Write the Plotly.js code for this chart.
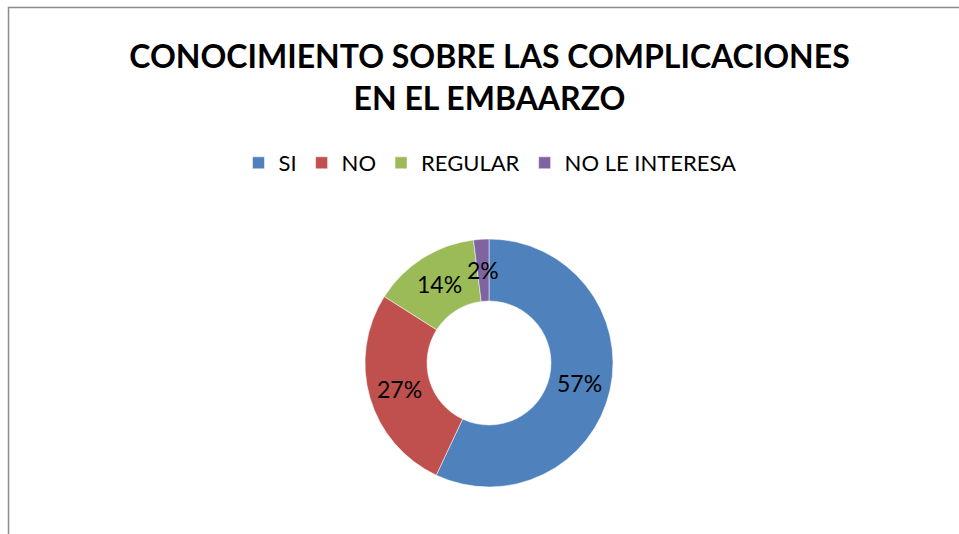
<!DOCTYPE html>
<html>
<head>
<meta charset="utf-8">
<script src="https://cdn.plot.ly/plotly-3.0.1.min.js"></script>
<style>html,body{margin:0;padding:0;background:#fff;}#chart{width:959px;height:534px;}</style>
</head>
<body>
<div id="chart"></div>
<script>
const categories = ["SI", "NO", "REGULAR", "NO LE INTERESA"];
const values = [57, 27, 14, 2];
const colors = ["#4F81BD", "#C0504D", "#9BBB59", "#8064A2"];
const titleText = "CONOCIMIENTO SOBRE LAS COMPLICACIONES<br>EN EL EMBAARZO";

const W = 959, H = 534;
const cx = 489, cy = 363, R = 124, hole = 0.5;
const dom = {x: [(cx - R) / W, (cx + R) / W], y: [1 - (cy + R) / H, 1 - (cy - R) / H]};

// label positions computed from the data (mid-angle of each slice, middle of ring)
const total = values.reduce((a, b) => a + b, 0);
const rMid = R * (1 + hole) / 2;
let cum = 0;
const annotations = values.map((v, i) => {
  const mid = (cum + v / 2) / total * 2 * Math.PI;
  cum += v;
  const px = cx + rMid * Math.sin(mid);
  const py = cy - rMid * Math.cos(mid);
  return {
    text: Math.round(v / total * 100) + "%",
    x: px / W, y: 1 - py / H, xref: "paper", yref: "paper",
    showarrow: false, xanchor: "center", yanchor: "middle",
    font: {family: "Lato, sans-serif", size: 23, color: "#000"}
  };
});

const data = [{
  type: "pie",
  labels: categories,
  values: values,
  hole: hole,
  sort: false,
  direction: "clockwise",
  rotation: 0,
  marker: {colors: colors, line: {color: "#ffffff", width: 0.5}},
  textinfo: "none",
  hoverinfo: "label+percent",
  domain: dom
}];

const layout = {
  width: W, height: H,
  margin: {l: 0, r: 0, t: 0, b: 0},
  paper_bgcolor: "#ffffff",
  showlegend: true,
  title: {
    text: titleText,
    x: 489.5 / W, xanchor: "center",
    y: 1 - 68 / H, yanchor: "top", yref: "container",
    font: {family: "Lato, sans-serif", size: 32, color: "#000", weight: "bold"}
  },
  legend: {
    orientation: "h",
    x: 490 / W, xanchor: "center",
    y: 1 - 142 / H, yanchor: "top",
    font: {family: "Lato, sans-serif", size: 22, color: "#000"},
    traceorder: "normal",
    itemclick: false
  },
  annotations: annotations,
  shapes: [{
    type: "rect", xref: "paper", yref: "paper",
    x0: 8.5 / W, x1: 1.1, y0: -0.1, y1: 1 - 7.5 / H,
    line: {color: "#8c8c8c", width: 1.5}, fillcolor: "rgba(0,0,0,0)"
  }]
};

Plotly.newPlot("chart", data, layout, {displayModeBar: false, staticPlot: true});
</script>
</body>
</html>
